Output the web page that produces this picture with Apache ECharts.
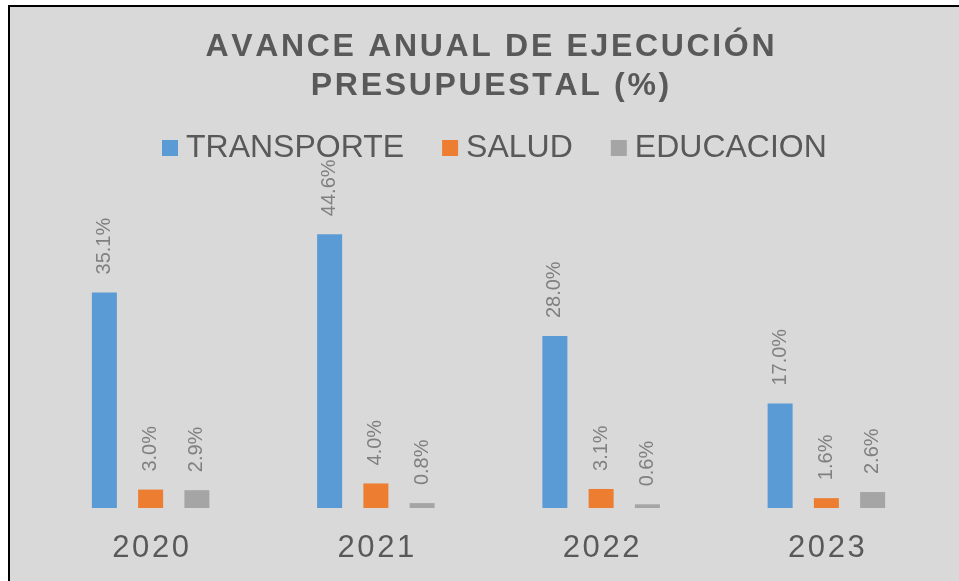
<!DOCTYPE html>
<html lang="es">
<head>
    <meta charset="utf-8"/>
    <title>Avance anual de ejecución presupuestal</title>
    <script src="https://cdn.jsdelivr.net/npm/echarts@6/dist/echarts.min.js"></script>
    <style type="text/css">
        html, body { margin:0; height:100%; background:#ffffff; }
        #frame {
            position:absolute; left:8px; top:5px; right:0; bottom:0;
            background:#d9d9d9; border-left:2px solid #000; border-top:2px solid #000;
        }
        #main_1 { position:absolute; left:0; top:0; width:959px; height:581px; }
    </style>
</head>
<body>
<div id="frame"></div>
<div id="main_1"></div>
<script>
    var years = ['2020', '2021', '2022', '2023'];
    var transporte = [35.1, 44.6, 28.0, 17.0];
    var salud = [3.0, 4.0, 3.1, 1.6];
    var educacion = [2.9, 0.8, 0.6, 2.6];

    // tracking: hair space between letters
    function spaced(s) { return s.split('').join('\u200A'); }

    var labelStyle = {
        show: true,
        position: 'top',
        rotate: 90,
        align: 'left',
        verticalAlign: 'middle',
        distance: 18,
        color: '#808080',
        fontSize: 20,
        fontFamily: 'Liberation Sans',
        formatter: function (p) { return p.value.toFixed(1) + '%'; }
    };

    function makeSeries(name, data, color) {
        return {
            name: name,
            type: 'bar',
            data: data,
            barWidth: 25,
            barGap: '85%',
            itemStyle: { color: color },
            label: labelStyle
        };
    }

    var myChart = echarts.init(document.getElementById('main_1'));
    var option = {
        backgroundColor: 'transparent',
        animation: false,
        title: {
            text: spaced('AVANCE ANUAL DE EJECUCIÓN') + '\n' + spaced('PRESUPUESTAL (%)'),
            left: 485,
            top: 23,
            textAlign: 'center',
            textStyle: {
                color: '#595959',
                fontSize: 32,
                fontWeight: 'bold',
                fontFamily: 'Liberation Sans',
                lineHeight: 39
            }
        },
        legend: {
            top: 127,
            left: 157,
            itemWidth: 16,
            itemHeight: 16,
            itemGap: 38,
            icon: 'rect',
            textStyle: {
                color: '#595959',
                fontSize: 32,
                fontFamily: 'Liberation Sans',
                padding: [0, 0, 0, 3]
            },
            data: ['TRANSPORTE', 'SALUD', 'EDUCACION']
        },
        grid: { left: 38, right: 20, top: 201, bottom: 73 },
        xAxis: {
            type: 'category',
            data: years,
            axisLine: { show: false },
            axisTick: { show: false },
            axisLabel: {
                margin: 25,
                color: '#595959',
                fontSize: 31,
                fontFamily: 'Liberation Sans',
                formatter: function (v) { return spaced(v); }
            }
        },
        yAxis: {
            type: 'value',
            min: 0,
            max: 50,
            show: false,
            splitLine: { show: false }
        },
        series: [
            makeSeries('TRANSPORTE', transporte, '#5b9bd5'),
            makeSeries('SALUD', salud, '#ed7d31'),
            makeSeries('EDUCACION', educacion, '#a5a5a5')
        ]
    };
    myChart.setOption(option);
</script>
</body>
</html>
